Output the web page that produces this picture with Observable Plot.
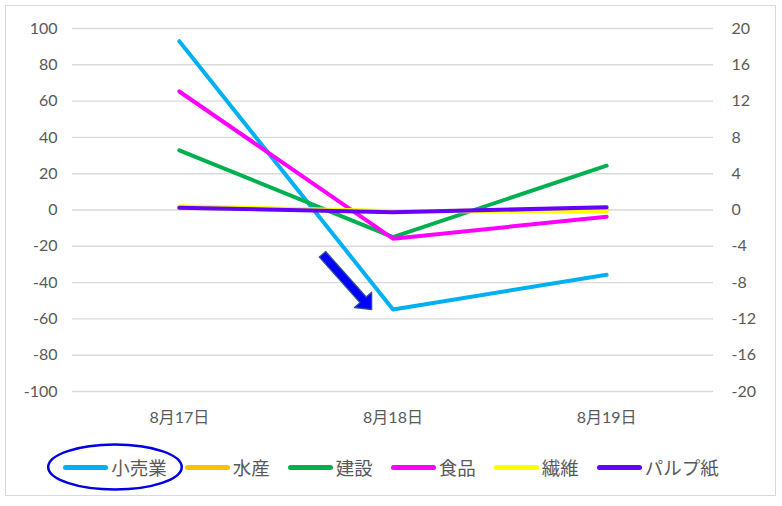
<!DOCTYPE html>
<html><head><meta charset="utf-8">
<script src="https://cdn.jsdelivr.net/npm/d3@7"></script>
<script src="https://cdn.jsdelivr.net/npm/@observablehq/plot@0.6"></script>
<style>
body{margin:0;background:#fff;}
#wrap{position:relative;width:782px;height:506px;overflow:hidden;}
#frame{position:absolute;left:5px;top:5px;width:769px;height:489px;border:1.5px solid #d9d9d9;}
#chart{position:absolute;left:0;top:0;}
#legend{position:absolute;top:453px;left:0;width:782px;height:28px;display:flex;justify-content:center;align-items:center;font-family:"Noto Sans CJK JP",sans-serif;font-size:18.5px;color:#595959;}
.item{display:flex;align-items:center;margin:0 9px;}
.sw{width:45px;height:5px;border-radius:3px;margin-right:3px;}
#ring{position:absolute;left:0;top:0;pointer-events:none;}
</style>
</head><body>
<div id="wrap"><div id="frame"></div><div id="chart"></div><div id="legend"></div><svg id="ring" width="782" height="506"></svg></div>
<script>
const categories = ["8月17日", "8月18日", "8月19日"];
const seriesNames = ["小売業", "水産", "建設", "食品", "繊維", "パルプ紙"];
const seriesColors = ["#00b0f0", "#ffc000", "#00b050", "#ff00ff", "#ffff00", "#6600ff"];
const retail = [93.0, -54.8, -35.7];
const fisheries = [1.2, -0.8, 0.3];
const construction = [32.9, -14.9, 24.4];
const food = [65.3, -15.8, -3.7];
const textiles = [2.0, -0.5, -1.0];
const pulpPaper = [1.3, -1.3, 1.5];
const leftTicks = [-100, -80, -60, -40, -20, 0, 20, 40, 60, 80, 100];
const rightTickLabels = [-20, -16, -12, -8, -4, 0, 4, 8, 12, 16, 20];
// annotation arrow tail (data units: category index, left-axis value)
const arrowNote = [{i: 0.670, v: -24.4}];

const seriesValues = [retail, fisheries, construction, food, textiles, pulpPaper];
const rows = [];
seriesNames.forEach((name, s) => seriesValues[s].forEach((v, i) => rows.push({series: name, i, v})));

const blockArrow = {
  draw(context, l) {
    const w = 4.2, h = 11.5, hl = 13;
    context.moveTo(-w, 0);
    context.lineTo(-w, -(l - hl));
    context.lineTo(-h, -(l - hl));
    context.lineTo(0, -l);
    context.lineTo(h, -(l - hl));
    context.lineTo(w, -(l - hl));
    context.lineTo(w, 0);
    context.closePath();
  }
};

const font = "Lato, 'Noto Sans CJK JP', sans-serif";
const chart = Plot.plot({
  width: 782, height: 430,
  marginLeft: 72, marginRight: 69, marginTop: 28, marginBottom: 39,
  style: {fontFamily: font, fontSize: "16px", color: "#595959", background: "transparent"},
  x: {type: "linear", domain: [-0.5, 2.5]},
  y: {domain: [-100, 100]},
  color: {domain: seriesNames, range: seriesColors},
  marks: [
    Plot.gridY(leftTicks, {stroke: "#d9d9d9", strokeOpacity: 1, strokeWidth: 1.4}),
    Plot.axisY(leftTicks, {tickSize: 0, tickPadding: 15, label: null, fontSize: 16, tickFormat: d => String(d)}),
    Plot.axisY(leftTicks, {anchor: "right", tickSize: 0, tickPadding: 18, label: null, fontSize: 16, textAnchor: "start",
      tickFormat: d => String(rightTickLabels[leftTicks.indexOf(d)])}),
    Plot.axisX(categories.map((c, i) => i), {tickSize: 0, tickPadding: 20, label: null, fontSize: 16,
      tickFormat: i => categories[i]}),
    Plot.line(rows, {x: "i", y: "v", z: "series", stroke: "series", strokeWidth: 4, strokeLinecap: "round", strokeLinejoin: "round"}),
    Plot.vector(arrowNote, {x: "i", y: "v", anchor: "start", length: 74, rotate: 138.3, shape: blockArrow,
      fill: "#0000ff", stroke: "#2f528f", strokeWidth: 1.3})
  ]
});
document.getElementById("chart").appendChild(chart);

const legend = document.getElementById("legend");
seriesNames.forEach((name, s) => {
  const it = document.createElement("div");
  it.className = "item";
  const sw = document.createElement("div");
  sw.className = "sw"; sw.style.background = seriesColors[s];
  const t = document.createElement("span");
  t.textContent = name;
  it.appendChild(sw); it.appendChild(t);
  legend.appendChild(it);
});
// ellipse highlight around the first legend entry
const first = legend.firstChild.getBoundingClientRect();
const wrapR = document.getElementById("wrap").getBoundingClientRect();
const cx = (first.left + first.right) / 2 - wrapR.left;
const cy = (first.top + first.bottom) / 2 - wrapR.top;
const ring = d3.select("#ring");
ring.append("ellipse").attr("cx", cx).attr("cy", cy).attr("rx", first.width / 2 + 15).attr("ry", 22.5)
  .attr("fill", "none").attr("stroke", "#0000e0").attr("stroke-width", 2.5);
</script>
</body></html>
